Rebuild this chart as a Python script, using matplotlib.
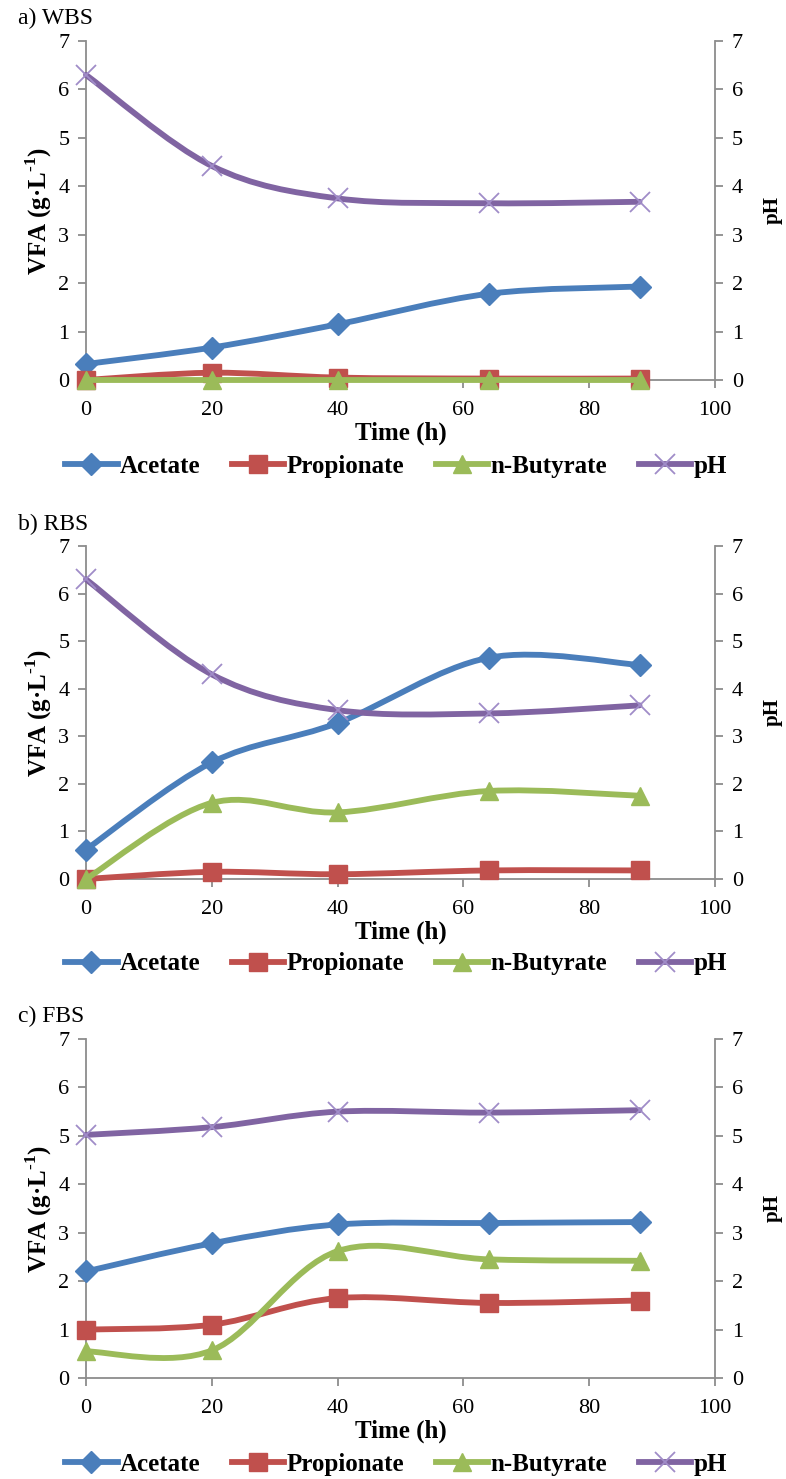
import matplotlib.pyplot as plt
import numpy as np
from matplotlib.path import Path
from matplotlib.patches import PathPatch
from matplotlib.lines import Line2D

plt.rcParams["font.family"] = ["Liberation Serif", "DejaVu Serif"]
plt.rcParams["mathtext.fontset"] = "custom"
plt.rcParams["mathtext.rm"] = "Liberation Serif"
plt.rcParams["mathtext.bf"] = "Liberation Serif:bold"

time_h = [0, 20, 40, 64, 88]

# a) WBS
wbs_acetate = [0.33, 0.67, 1.15, 1.78, 1.93]
wbs_propionate = [0.0, 0.15, 0.05, 0.03, 0.03]
wbs_butyrate = [0.0, 0.0, 0.0, 0.0, 0.0]
wbs_ph = [6.3, 4.42, 3.75, 3.65, 3.68]

# b) RBS
rbs_acetate = [0.62, 2.45, 3.28, 4.65, 4.5]
rbs_propionate = [0.0, 0.15, 0.1, 0.18, 0.18]
rbs_butyrate = [0.0, 1.6, 1.4, 1.85, 1.75]
rbs_ph = [6.3, 4.3, 3.55, 3.48, 3.65]

# c) FBS
fbs_acetate = [2.2, 2.78, 3.17, 3.2, 3.22]
fbs_propionate = [1.0, 1.1, 1.65, 1.55, 1.6]
fbs_butyrate = [0.55, 0.57, 2.62, 2.45, 2.42]
fbs_ph = [5.02, 5.18, 5.5, 5.48, 5.53]

panel_titles = ["a) WBS", "b) RBS", "c) FBS"]
series_names = ["Acetate", "Propionate", "n-Butyrate", "pH"]

colors = ["#4A7EBB", "#C0504D", "#9BBB59", "#8064A2"]
markers = ["D", "s", "^", "x"]
msizes = [11, 13, 13, 15]
x_marker_color = "#A08CC8"
axis_grey = "#8C8C8C"
line_w = 4.2


def smooth_path(x, y):
    """Bezier path through the points, same style as spreadsheet smoothed lines."""
    pts = np.column_stack([x, y]).astype(float)
    ext = np.vstack([pts[0], pts, pts[-1]])
    verts = [pts[0]]
    codes = [Path.MOVETO]
    for i in range(len(pts) - 1):
        p0, p1, p2, p3 = ext[i], ext[i + 1], ext[i + 2], ext[i + 3]
        c1 = p1 + (p2 - p0) / 6.0
        c2 = p2 - (p3 - p1) / 6.0
        verts += [c1, c2, p2]
        codes += [Path.CURVE4] * 3
    return Path(np.array(verts), codes)


def marker_style(k):
    if markers[k] == "x":
        return dict(marker="x", ms=msizes[k], mew=1.3, mec=x_marker_color)
    return dict(marker=markers[k], ms=msizes[k], mew=1, mec=colors[k],
                mfc=colors[k])


def draw_series(ax, x, y, k, z):
    ax.add_patch(PathPatch(smooth_path(x, y), fill=False, edgecolor=colors[k],
                           lw=line_w, capstyle="round", joinstyle="round",
                           zorder=z, clip_on=False))
    ax.plot(x, y, ls="none", zorder=z + 0.5, clip_on=False, **marker_style(k))


panel_data = [
    (wbs_acetate, wbs_propionate, wbs_butyrate, wbs_ph),
    (rbs_acetate, rbs_propionate, rbs_butyrate, rbs_ph),
    (fbs_acetate, fbs_propionate, fbs_butyrate, fbs_ph),
]

W, H = 786, 1479
fig = plt.figure(figsize=(W / 100, H / 100), dpi=100)

# pixel extents of each plot area: (top, bottom)
extents = [(41, 380), (546, 879), (1039, 1378)]
left_px, right_px = 86, 715

for (top, bottom), title, data in zip(extents, panel_titles, panel_data):
    ax = fig.add_axes([left_px / W, 1 - bottom / H,
                       (right_px - left_px) / W, (bottom - top) / H])
    ax2 = ax.twinx()

    for k in range(3):
        draw_series(ax, time_h, data[k], k, 3 + k)
    draw_series(ax2, time_h, data[3], 3, 3)

    for a in (ax, ax2):
        a.set_xlim(0, 100)
        a.set_ylim(0, 7)
        a.set_yticks(range(8))
        a.spines["top"].set_visible(False)
        for s in ("left", "right", "bottom"):
            a.spines[s].set_color(axis_grey)
            a.spines[s].set_linewidth(1.3)
        a.tick_params(direction="out", length=6, width=1.3, color=axis_grey,
                      labelsize=16, pad=6)
    ax.tick_params(axis="x", pad=9)
    ax.spines["right"].set_visible(False)
    ax2.spines["left"].set_visible(False)
    ax2.spines["bottom"].set_visible(False)
    ax.set_xticks(range(0, 101, 20))

    ax.set_xlabel("Time (h)", fontsize=18, fontweight="bold", labelpad=1)
    ax.set_ylabel("VFA (g\u00b7L$^{\\mathbf{\u20101}}$)", fontsize=18,
                  fontweight="bold", labelpad=3)
    ax2.set_ylabel("pH", fontsize=15, fontweight="bold", labelpad=14)

    ax.text(-0.108, 1.034, title, transform=ax.transAxes, fontsize=17,
            ha="left", va="bottom")

    handles = [Line2D([0], [0], color=colors[k], lw=line_w, **marker_style(k))
               for k in range(4)]
    ax.legend(handles, series_names, loc="center", bbox_to_anchor=(0.493, -0.255),
              ncol=4, frameon=False, handlelength=2.1, handletextpad=0.1,
              columnspacing=1.25, prop={"weight": "bold", "size": 18})

fig.savefig("out.png", dpi=100)
